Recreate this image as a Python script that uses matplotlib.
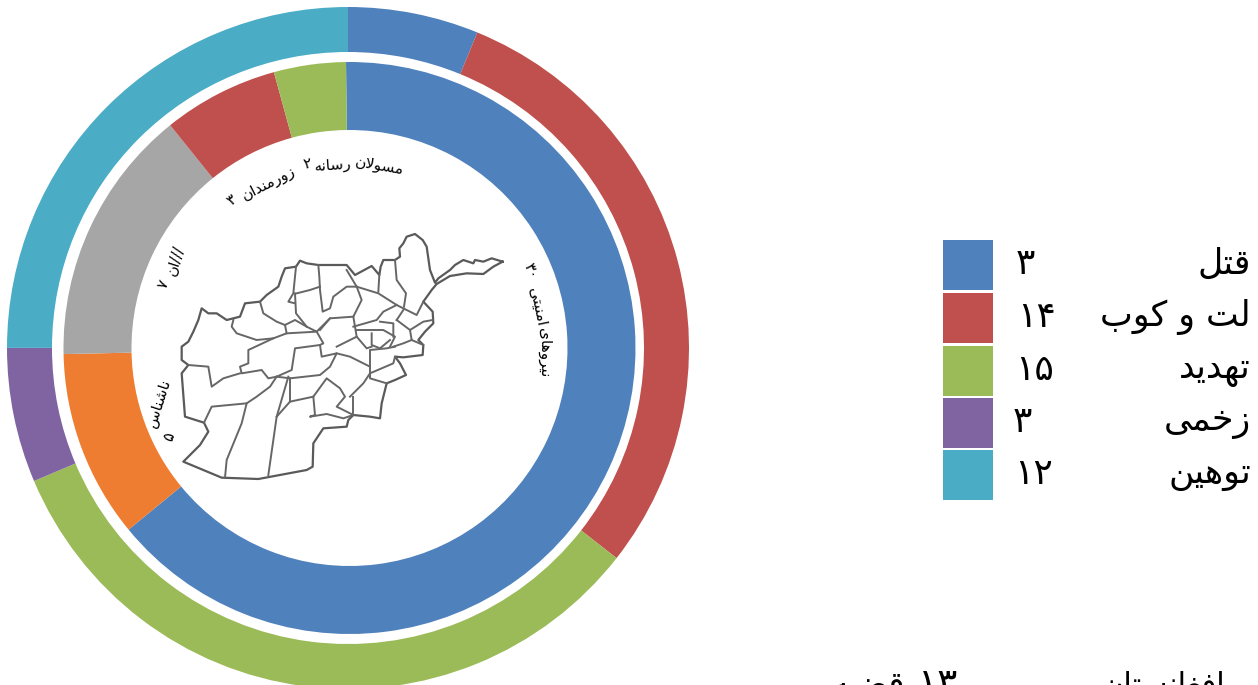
import re
import matplotlib
matplotlib.use('Agg')
import matplotlib.pyplot as plt
from matplotlib.patches import Rectangle

plt.rcParams['font.family'] = ['DejaVu Sans']

#-----------------------Data---------------------------------------------------
outer_names = ['قتل', 'لت و کوب', 'تهدید', 'زخمی', 'توهین']
outer_values = [3, 14, 15, 3, 12]
outer_colors = ['#4F81BD', '#C0504D', '#9BBB59', '#8064A2', '#4BACC6']
# slice sizes as drawn in the picture, a little off from the printed numbers
outer_slices = [2.91, 13.81, 15.54, 3.0, 11.75]

inner_slices = [30.2, 4.99, 6.84, 3.07, 1.91]
inner_colors = ['#4F81BD', '#EE7D31', '#A5A6A5', '#C0504D', '#9BBB59']

# ring labels, one entry per word: text, x, y, rotation (pixels of the picture)
ring_words = ['مسولان', 'رسانه', '۲', 'زورمندان', '۳',
              'نیروهای', 'امنیتی', '۳۰', 'ناشناس', '۵', '///ان', '۷']
ring_x = [380, 333, 307, 268, 232, 545, 538, 531, 159, 169, 175, 163]
ring_y = [166, 165, 164, 183, 200, 353, 307, 271, 403, 437, 260, 284]
ring_rot = [-10, 4, 13, 27, 40, -90, -78, -68, 72, 72, 72, 65]

border = [(1118,395),(1085,385),(1060,395),(1035,390),(1030,400),(1000,390),(975,405),(960,420),
          (925,445),(915,458),(900,420),(890,350),(878,330),(855,312),(830,320),(820,340),(808,355),
          (810,380),(795,390),(760,390),(752,410),(748,435),(725,408),(675,435),(650,405),(605,405),
          (565,405),(530,400),(510,392),(498,410),(465,415),(455,440),(445,470),(410,495),(390,515),
          (345,520),(330,560),(290,570),(260,550),(235,550),(215,535),(205,570),(190,605),(175,635),
          (155,650),(155,690),(175,705),(155,730),(165,860),(222,878),(235,905),(210,945),(160,995),
          (275,1043),(385,1047),(530,1020),(548,1010),(550,940),(580,895),(650,890),(655,870),(670,855),
          (720,860),(750,865),(755,820),(770,760),(795,750),(828,735),(810,700),(795,680),(820,682),
          (878,675),(880,645),(865,630),(885,605),(910,580),(908,545),(880,515),(905,480),(920,462),
          (960,438),(1010,430),(1060,432),(1090,410),(1118,395)]

provinces = [
    [(498,410),(490,490),(475,515),(495,520)],
    [(565,405),(568,440),(570,480),(575,520),(578,545),(600,535),(610,500),(650,470),(680,470)],
    [(500,490),(540,480),(570,470)],
    [(495,490),(498,550),(530,590),(560,605),(600,565),(670,560),(695,510),(680,470),(650,420)],
    [(680,470),(745,490),(800,525),(830,540),(860,555),(880,515)],
    [(748,435),(745,485)],
    [(795,390),(800,450),(828,490),(822,530)],
    [(390,515),(400,550),(440,575),(465,585),(470,610),(430,625),(380,630),(320,610),(305,590),(310,570)],
    [(465,585),(495,570),(530,590)],
    [(470,610),(560,605),(580,640),(570,645),(495,655),(485,720),(440,740),(415,745),(395,720),
     (335,730),(330,710),(355,700),(355,660),(430,625)],
    [(570,645),(575,680),(620,670),(600,710),(570,735),(480,745),(440,740)],
    [(330,730),(280,745),(245,770),(235,710),(175,705)],
    [(440,740),(420,770),(380,800),(350,820),(245,830),(222,878)],
    [(350,820),(335,880),(290,990),(285,1043)],
    [(475,740),(440,860),(415,1035)],
    [(480,745),(480,815),(440,860)],
    [(480,815),(550,800),(590,745),(630,775),(645,800),(620,830),(670,855)],
    [(550,800),(555,855),(540,860),(590,852),(640,865),(670,855)],
    [(670,800),(670,855)],
    [(660,800),(700,760),(720,730),(790,700),(795,680)],
    [(620,670),(660,680),(700,700),(720,710),(720,660),(770,655),(795,650)],
    [(620,650),(680,620),(710,655),(725,650)],
    [(570,600),(600,565)],
    [(670,560),(680,620)],
    [(670,590),(740,570),(760,545),(800,525)],
    [(680,600),(720,600),(760,600),(795,620),(780,650)],
    [(725,610),(725,645),(750,655),(780,630)],
    [(750,575),(790,580),(790,620)],
    [(800,570),(840,600),(880,575),(908,570)],
    [(840,600),(845,630),(880,645)],
    [(845,630),(820,640),(790,650)],
    [(820,540),(800,570)],
    [(720,710),(720,745),(770,760)],
]

#-----------------------Arabic shaping (matplotlib does not shape)--------------
# letter: isolated, final, initial, medial
forms = {'ا': (0xFE8D, 0xFE8E), 'د': (0xFEA9, 0xFEAA), 'ر': (0xFEAD, 0xFEAE), 'ز': (0xFEAF, 0xFEB0),
         'و': (0xFEED, 0xFEEE),
         'ب': (0xFE8F, 0xFE90, 0xFE91, 0xFE92), 'ت': (0xFE95, 0xFE96, 0xFE97, 0xFE98),
         'خ': (0xFEA5, 0xFEA6, 0xFEA7, 0xFEA8), 'س': (0xFEB1, 0xFEB2, 0xFEB3, 0xFEB4),
         'ش': (0xFEB5, 0xFEB6, 0xFEB7, 0xFEB8), 'ض': (0xFEBD, 0xFEBE, 0xFEBF, 0xFEC0),
         'غ': (0xFECD, 0xFECE, 0xFECF, 0xFED0), 'ف': (0xFED1, 0xFED2, 0xFED3, 0xFED4),
         'ق': (0xFED5, 0xFED6, 0xFED7, 0xFED8), 'ک': (0xFB8E, 0xFB8F, 0xFB90, 0xFB91),
         'ل': (0xFEDD, 0xFEDE, 0xFEDF, 0xFEE0), 'م': (0xFEE1, 0xFEE2, 0xFEE3, 0xFEE4),
         'ن': (0xFEE5, 0xFEE6, 0xFEE7, 0xFEE8), 'ه': (0xFEE9, 0xFEEA, 0xFEEB, 0xFEEC),
         'ی': (0xFBFC, 0xFBFD, 0xFBFE, 0xFBFF)}

def shape(text):
    text = text.replace('لا', '\uFEFB')
    out = ''
    for i, ch in enumerate(text):
        if ch == '\uFEFB':
            before = i > 0 and len(forms.get(text[i-1], ())) == 4
            out += '\uFEFC' if before else ch
        elif ch in forms:
            f = forms[ch]
            before = i > 0 and len(forms.get(text[i-1], ())) == 4
            after = i < len(text)-1 and (text[i+1] in forms or text[i+1] == '\uFEFB')
            if len(f) == 2:
                out += chr(f[1] if before else f[0])
            elif before and after:
                out += chr(f[3])
            elif before:
                out += chr(f[1])
            elif after:
                out += chr(f[2])
            else:
                out += chr(f[0])
        else:
            out += ch
    # visual order, digit runs stay left to right
    parts = re.findall('[۰-۹]+|[^۰-۹]', out)
    return ''.join(reversed(parts))

def fa_num(n):
    return str(n).translate(str.maketrans('0123456789', '۰۱۲۳۴۵۶۷۸۹'))

#-----------------------Figure-------------------------------------------------
W = 1258
H = 685
fig = plt.figure(figsize=(W/100, H/100), dpi=100)
ax = fig.add_axes([0, 0, 1, 1])

ax.pie(outer_slices, colors=outer_colors, center=(348, H-348), radius=341, startangle=90,
       counterclock=False, wedgeprops=dict(width=45, linewidth=0), frame=True)
ax.pie(inner_slices, colors=inner_colors, center=(349.5, H-348), radius=286, startangle=90.7,
       counterclock=False, wedgeprops=dict(width=68, linewidth=0), frame=True)

# map
xs = [130+p[0]/3 for p in border]
ys = [H-(130+p[1]/3) for p in border]
ax.plot(xs, ys, color='#5a5a5a', lw=1.6, solid_joinstyle='round')
for line in provinces:
    xs = [130+p[0]/3 for p in line]
    ys = [H-(130+p[1]/3) for p in line]
    ax.plot(xs, ys, color='#666666', lw=1.4, solid_joinstyle='round')

# labels inside the ring
for word, x, y, rot in zip(ring_words, ring_x, ring_y, ring_rot):
    ax.text(x, H-y, shape(word), fontsize=11, rotation=rot, rotation_mode='anchor',
            ha='center', va='center', color='black')

# legend
box_y = [240, 293, 346, 398, 450]
num_x = [1025, 1037, 1035, 1022, 1034]
for i in range(5):
    ax.add_patch(Rectangle((943, H-box_y[i]-50), 50, 50, color=outer_colors[i], lw=0))
    ax.text(num_x[i], H-box_y[i]-24, fa_num(outer_values[i]), fontsize=26, ha='center', va='center')
    ax.text(1251, H-box_y[i]-24, shape(outer_names[i]), fontsize=25, ha='right', va='center')

# bottom line, cut by the edge of the picture as in the original
ax.text(1225, H-695, shape('افغانستان'), fontsize=22, ha='right', va='baseline')
ax.text(958, H-695, shape('۱۳'), fontsize=27, ha='right', va='baseline')
ax.text(905, H-695, shape('قضیه'), fontsize=24, ha='right', va='baseline')

ax.set_xlim(0, W)
ax.set_ylim(0, H)
ax.set_aspect('auto')
ax.axis('off')

fig.savefig('out.png', dpi=100)
